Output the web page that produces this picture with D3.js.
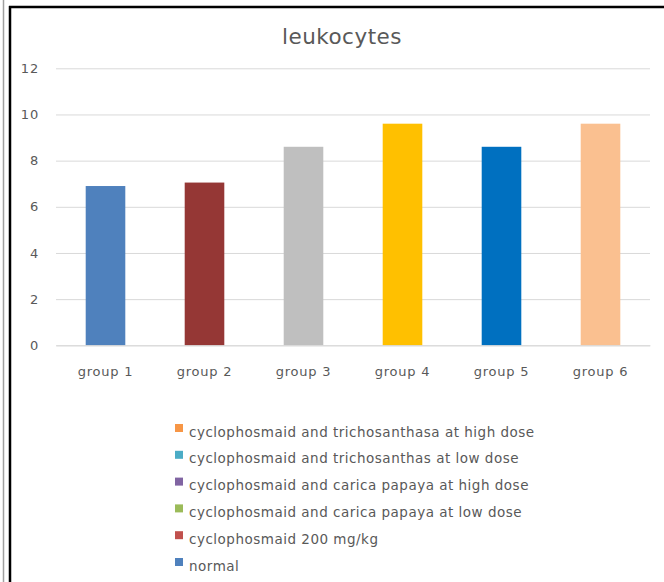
<!DOCTYPE html>
<html>
<head>
<meta charset="utf-8">
<script src="https://cdn.jsdelivr.net/npm/d3@7"></script>
<style>
  html, body { margin: 0; padding: 0; background: #fff; }
  svg { display: block; }
</style>
</head>
<body>
<svg id="chart" width="664" height="582"></svg>
<script>
// Leukocyte counts per group
const categories = ["group 1", "group 2", "group 3", "group 4", "group 5", "group 6"];
const values = [6.9, 7.05, 8.6, 9.6, 8.6, 9.6];
const barColors = ["#4F81BD", "#953735", "#BFBFBF", "#FFC000", "#0070C0", "#FAC090"];
const yTicks = [0, 2, 4, 6, 8, 10, 12];

// Legend entries (top to bottom)
const legendLabels = [
  "cyclophosmaid and trichosanthasa at high dose",
  "cyclophosmaid and trichosanthas at low dose",
  "cyclophosmaid and carica papaya at high dose",
  "cyclophosmaid and carica papaya at low dose",
  "cyclophosmaid 200 mg/kg",
  "normal"
];
const legendColors = ["#F79646", "#4BACC6", "#8064A2", "#9BBB59", "#C0504D", "#4F81BD"];

const svg = d3.select("#chart");
const font = "'DejaVu Sans', sans-serif";
const textColor = "#595959";

// Frame lines
svg.append("line").attr("x1", 3.5).attr("x2", 3.5).attr("y1", 0).attr("y2", 582)
  .attr("stroke", "#a0a0a0").attr("stroke-width", 1.5);
svg.append("line").attr("x1", 10).attr("x2", 10).attr("y1", 6).attr("y2", 582)
  .attr("stroke", "#000").attr("stroke-width", 2.5);
svg.append("line").attr("x1", 9).attr("x2", 664).attr("y1", 7).attr("y2", 7)
  .attr("stroke", "#000").attr("stroke-width", 2.5);

const plot = { left: 56, right: 650, top: 68.3, bottom: 345.3 };

const x = d3.scaleBand().domain(categories).range([plot.left, plot.right]).paddingInner(0.6).paddingOuter(0.3);
const y = d3.scaleLinear().domain([0, 12]).range([plot.bottom, plot.top]);

// Title
svg.append("text").attr("x", 342).attr("y", 44).attr("text-anchor", "middle")
  .attr("font-family", font).attr("font-size", 21.5).attr("letter-spacing", 0.5).attr("fill", textColor)
  .text("leukocytes");

// Gridlines and value ticks
const yAxis = d3.axisLeft(y).tickValues(yTicks).tickSize(-(plot.right - plot.left)).tickPadding(17).tickFormat(d3.format("d"));
const gy = svg.append("g").attr("transform", `translate(${plot.left},0)`).call(yAxis);
gy.select(".domain").remove();
gy.selectAll(".tick line").attr("stroke", "#d9d9d9").attr("stroke-width", 1);
gy.selectAll(".tick text").attr("font-family", font).attr("font-size", 13).attr("letter-spacing", 0.8).attr("fill", textColor);

// Bars
svg.append("g").selectAll("rect").data(values).join("rect")
  .attr("x", (d, i) => x(categories[i]))
  .attr("y", d => y(d))
  .attr("width", x.bandwidth())
  .attr("height", d => y(0) - y(d))
  .attr("fill", (d, i) => barColors[i]);

// Category axis
const xAxis = d3.axisBottom(x).tickSize(0).tickPadding(21);
const gx = svg.append("g").attr("transform", `translate(0,${plot.bottom})`).call(xAxis);
gx.select(".domain").attr("stroke", "#d9d9d9");
gx.selectAll(".tick text").attr("font-family", font).attr("font-size", 13).attr("letter-spacing", 0.8).attr("fill", textColor);

// Legend
const legend = svg.append("g").attr("transform", "translate(175,424)");
const rows = legend.selectAll("g").data(legendLabels).join("g")
  .attr("transform", (d, i) => `translate(0,${i * 26.8})`);
rows.append("rect").attr("width", 8).attr("height", 8).attr("fill", (d, i) => legendColors[i]);
rows.append("text").attr("x", 14).attr("y", 12.5)
  .attr("font-family", font).attr("font-size", 13.5).attr("letter-spacing", 0.5).attr("fill", textColor)
  .text(d => d);
</script>
</body>
</html>
